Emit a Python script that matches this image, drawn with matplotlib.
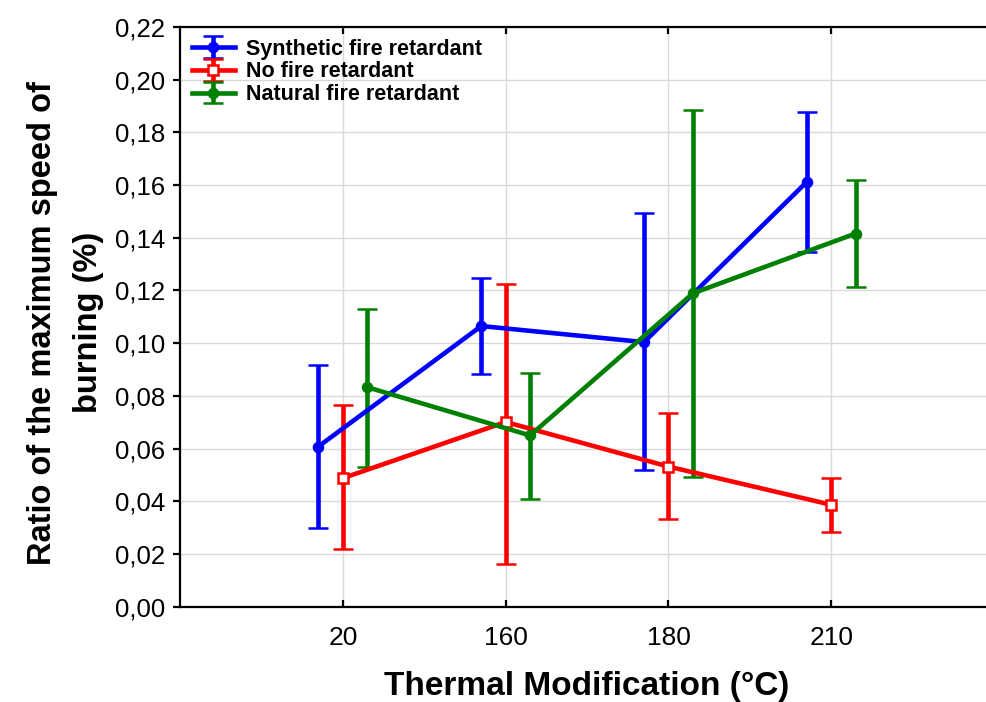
import numpy as np
import matplotlib
matplotlib.use("Agg")
import matplotlib.pyplot as plt

plt.rcParams['font.family'] = ['Liberation Sans', 'DejaVu Sans']

# categories on the x axis (thermal modification, °C)
temps = ['20', '160', '180', '210']

# means and error bar ends
synth_mean = [0.0608, 0.1065, 0.1004, 0.1612]
synth_up = [0.0919, 0.1249, 0.1492, 0.1878]
synth_low = [0.0298, 0.0882, 0.0520, 0.1344]

none_mean = [0.0488, 0.0701, 0.0532, 0.0387]
none_up = [0.0764, 0.1223, 0.0734, 0.0489]
none_low = [0.0221, 0.0162, 0.0332, 0.0285]

nat_mean = [0.0833, 0.0650, 0.1189, 0.1416]
nat_up = [0.1128, 0.0886, 0.1884, 0.1620]
nat_low = [0.0531, 0.0410, 0.0494, 0.1213]

yticks = [0.00, 0.02, 0.04, 0.06, 0.08, 0.10, 0.12, 0.14, 0.16, 0.18, 0.20, 0.22]
ytick_labels = ['0,00', '0,02', '0,04', '0,06', '0,08', '0,10',
                '0,12', '0,14', '0,16', '0,18', '0,20', '0,22']

fig = plt.figure(figsize=(9.86, 7.02), dpi=100)
ax = fig.add_axes([0.1826, 0.1356, 0.8256, 0.8262])

ind = np.arange(len(temps))
off = 0.15

def draw(x, mean, up, low, color, marker, label, mfc):
    mean = np.array(mean)
    err = [mean - np.array(low), np.array(up) - mean]
    ax.errorbar(x, mean, yerr=err, color=color, lw=3.3, elinewidth=3.3,
                capsize=7.5, capthick=3.3, marker=marker, markersize=6.5,
                mfc=mfc, mec=color, mew=1.8, label=label, zorder=3)

draw(ind - off, synth_mean, synth_up, synth_low, '#0000ff', 'o', 'Synthetic fire retardant', '#0000ff')
draw(ind, none_mean, none_up, none_low, '#ff0000', 's', 'No fire retardant', 'white')
draw(ind + off, nat_mean, nat_up, nat_low, '#008000', 'o', 'Natural fire retardant', '#008000')

ax.set_xlim(-1, 4)
ax.set_ylim(0, 0.22)
ax.set_xticks(ind)
ax.set_xticklabels(temps, fontsize=19)
ax.set_yticks(yticks)
ax.set_yticklabels(ytick_labels, fontsize=18.5)

ax.grid(True, color='#d9d9d9', lw=1, zorder=0)
ax.set_axisbelow(True)
for s in ax.spines.values():
    s.set_linewidth(1.6)
ax.tick_params(axis='x', direction='in', top=True, length=5, width=1.6, pad=14)
ax.tick_params(axis='y', direction='out', length=5, width=1.6, pad=6)

ax.set_xlabel('Thermal Modification (°C)', fontsize=24, fontweight='bold', labelpad=15)
ax.set_ylabel('Ratio of the maximum speed of\nburning (%)', fontsize=23.5,
              fontweight='bold', linespacing=1.62)
ax.yaxis.set_label_coords(-0.094, 0.49)

leg = ax.legend(loc='upper left', frameon=False, prop={'weight': 'bold', 'size': 15.5},
                labelspacing=0.08, handlelength=2.0, handletextpad=0.5,
                borderaxespad=0.35, borderpad=0.2)

plt.savefig('out.png', dpi=100)
